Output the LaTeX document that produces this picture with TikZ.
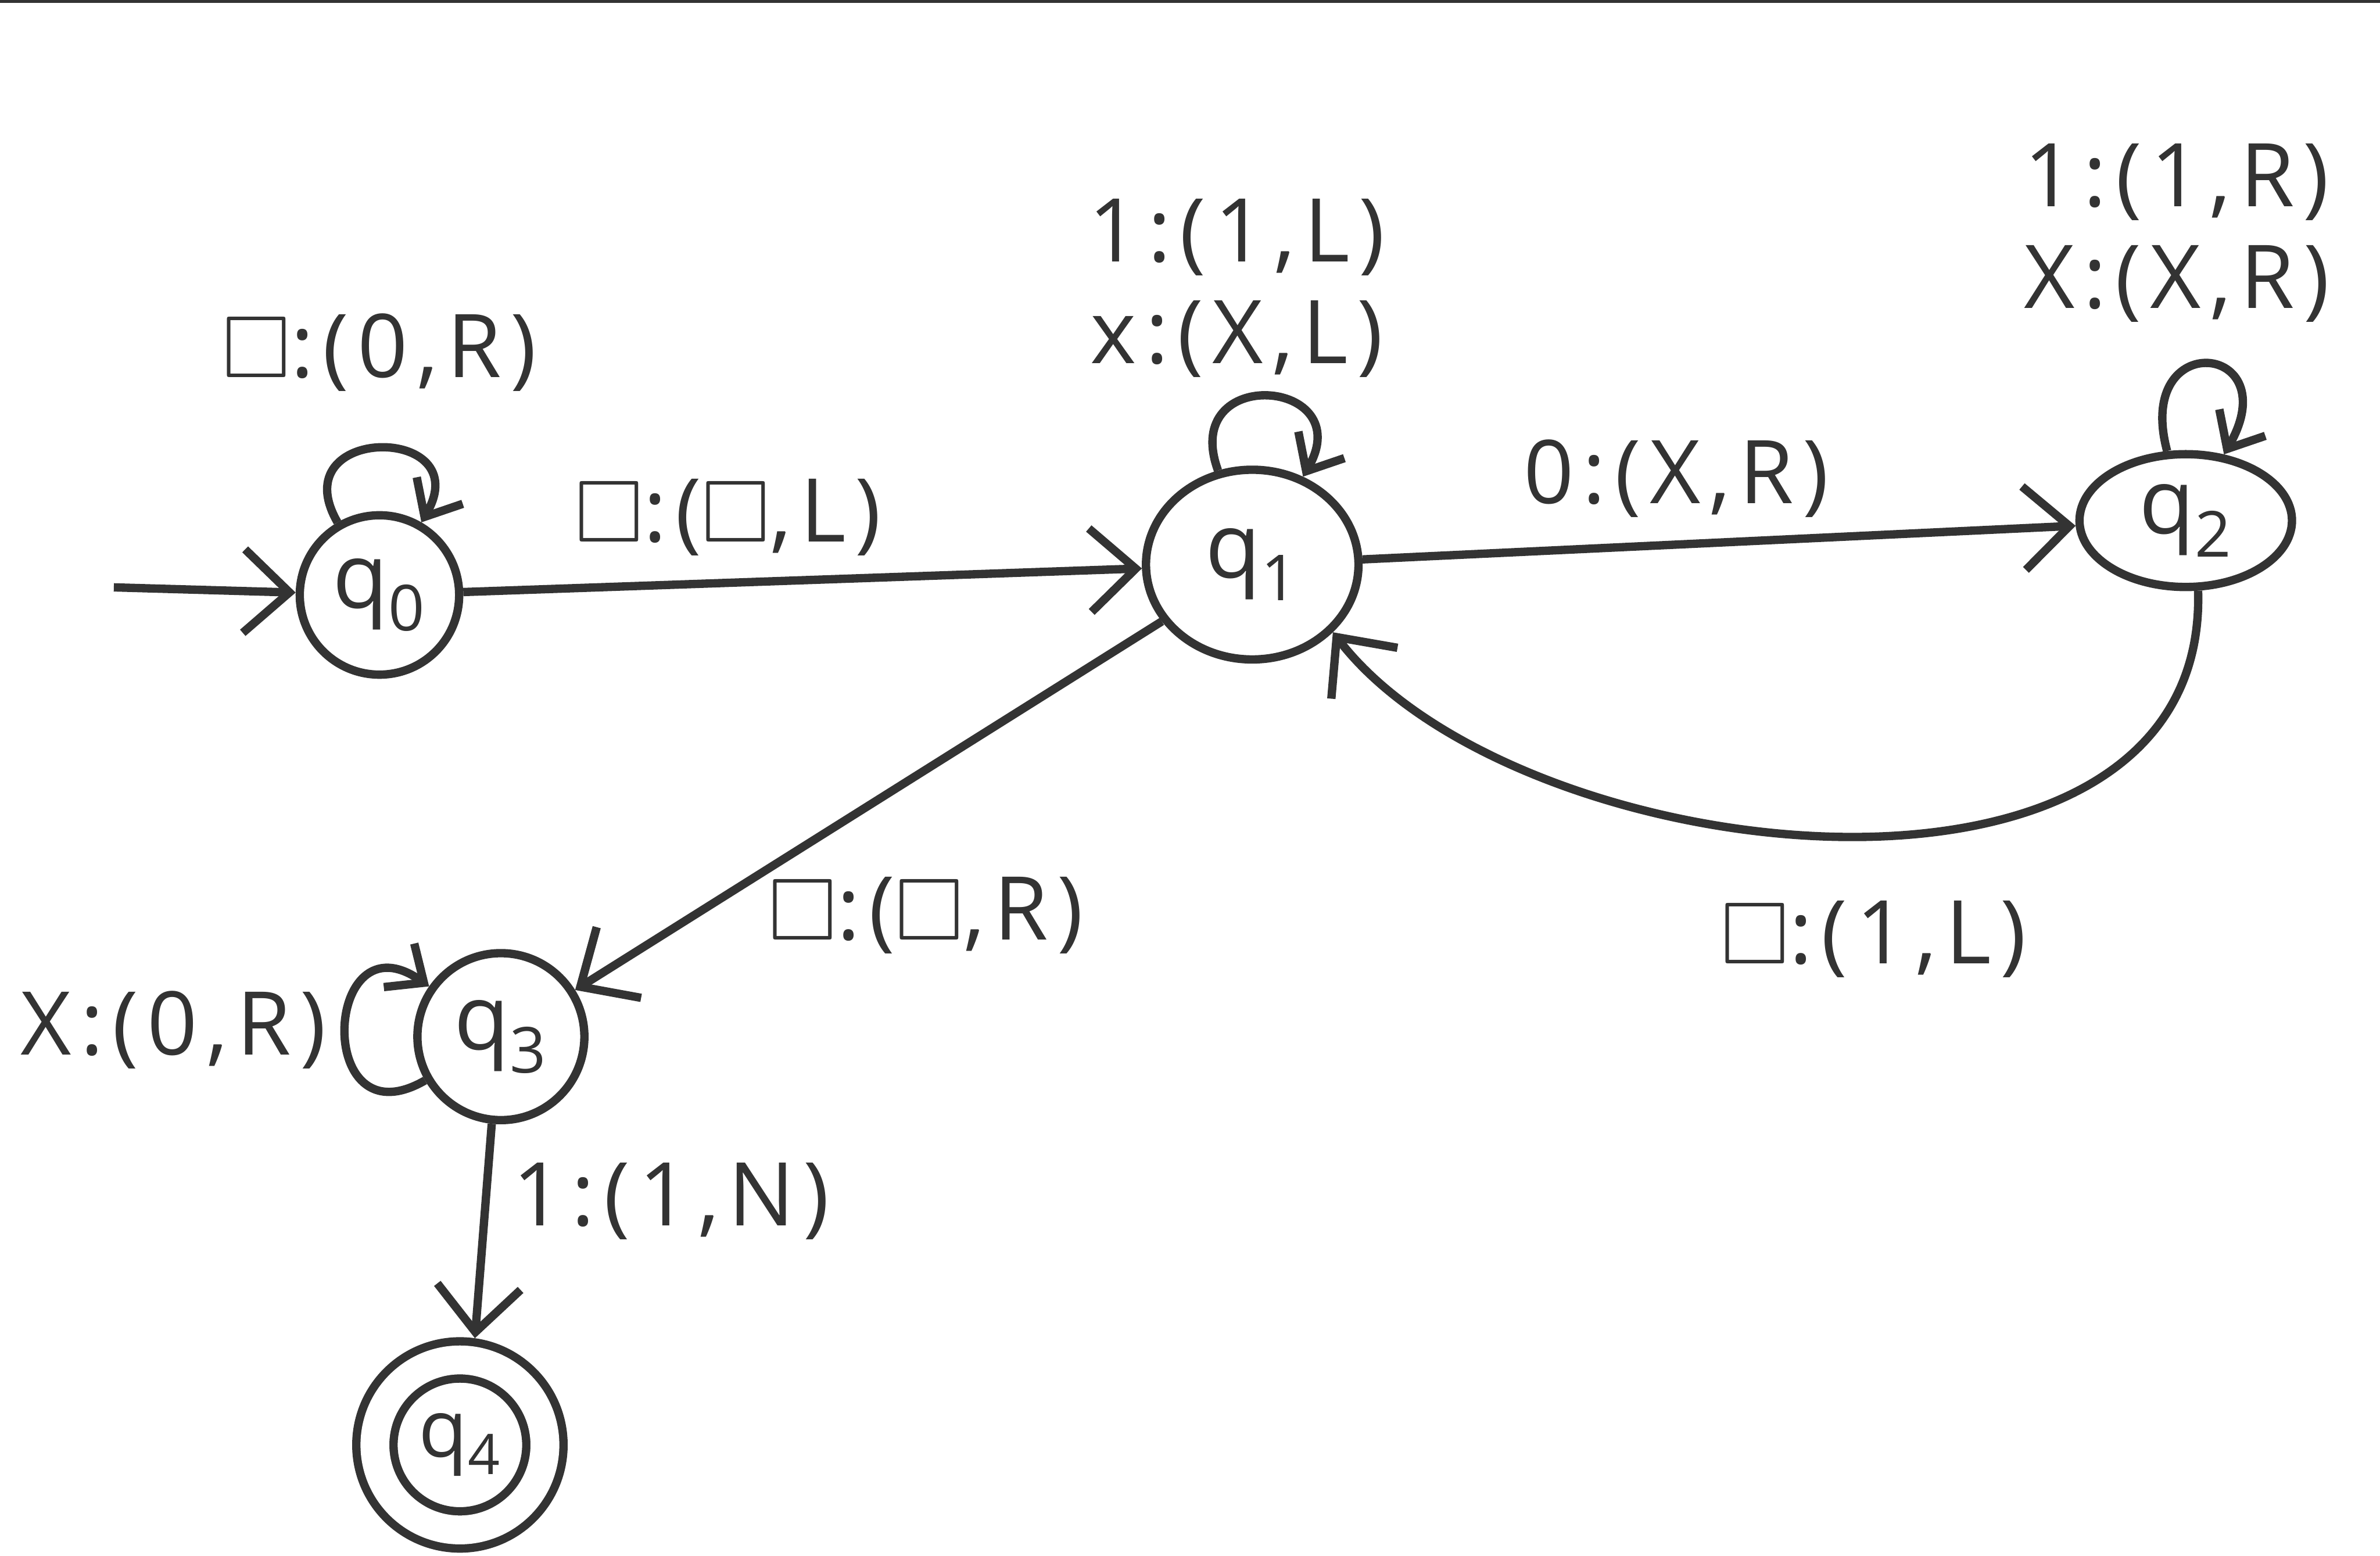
\documentclass[tikz,border=0pt]{standalone}
\usepackage{amssymb}
\usepackage{fontspec}
\setmainfont{Open Sans}
\newfontfamily\handfont[LetterSpace=10]{Open Sans}
\usetikzlibrary{shapes,arrows.meta,positioning}
\newcommand{\blank}{\ensuremath{\square}}

\begin{document}
\begin{tikzpicture}[x=0.2mm,y=0.2mm,line width=1.1mm,color=black!80,
    lab/.style={inner sep=1mm,font=\handfont\fontsize{33}{38}\selectfont},
    state/.style={draw,circle,minimum size=21mm,inner sep=0pt,font=\fontsize{34}{40}\selectfont},
    trans/.style={-{Straight Barb[length=6mm,width=11mm]}},
    selfloop/.style={-{Straight Barb[length=4mm,width=7mm]}}]
    \useasboundingbox (0,0) rectangle (1568,1025);
    \fill (0,1023) rectangle (1568,1025);
%
    \node[state] (q0) at (250,633) {q\textsubscript{0}};
    \node[state,ellipse,minimum width=28mm,minimum height=25mm] (q1) at (825,653) {q\textsubscript{1}};
    \node[state,ellipse,minimum width=28mm,minimum height=17.5mm] (q2) at (1440,682) {q\textsubscript{2}};
    \node[state,minimum size=22mm] (q3) at (330,342) {q\textsubscript{3}};
    \node[state,minimum size=22.4mm,double,double distance=3.8mm,outer sep=3mm,
        font=\fontsize{30}{34}\selectfont] (q4) at (303,73) {q\textsubscript{4}};
    \coordinate (start) at (75,638);
%
    \draw[trans] (start) -- (q0);
    \draw[trans] (q0) -- node[lab,pos=0.39,above=2mm] {\blank:(\blank,L)} (q1);
    \draw[trans] (q1) -- node[lab,pos=0.44,above=2mm] {0:(X,R)} (q2);
    \draw[trans] (q2.-80) .. controls (1455,400) and (1000,450) ..
        node[lab,pos=0.47,below=7mm] {\blank:(1,L)} (q1.-40);
    \draw[trans] (q1) -- node[lab,pos=0.6,anchor=north west,xshift=-7mm,yshift=-3mm] {\blank:(\blank,R)} (q3);
    \draw[trans] (q3.-96) -- node[lab,pos=0.36,right=2mm] {1:(1,N)} (q4.82);
%
    \draw[selfloop] (q0) to[out=120,in=60,distance=15mm]
        node[lab,above=6mm] {\blank:(0,R)} (q0);
    \draw[selfloop] (q1) to[out=110,in=60,distance=15mm]
        node[lab,above=1mm,xshift=-4mm,align=center] {1:(1,L)\\x:(X,L)} (q1);
    \draw[selfloop] (q2) to[out=105,in=60,distance=17mm]
        node[lab,above=4mm,xshift=-4mm,align=center] {1:(1,R)\\X:(X,R)} (q2);
    \draw[selfloop] (q3) to[out=210,in=145,distance=17mm]
        node[lab,left=1mm] {X:(0,R)} (q3);
\end{tikzpicture}
\end{document}
